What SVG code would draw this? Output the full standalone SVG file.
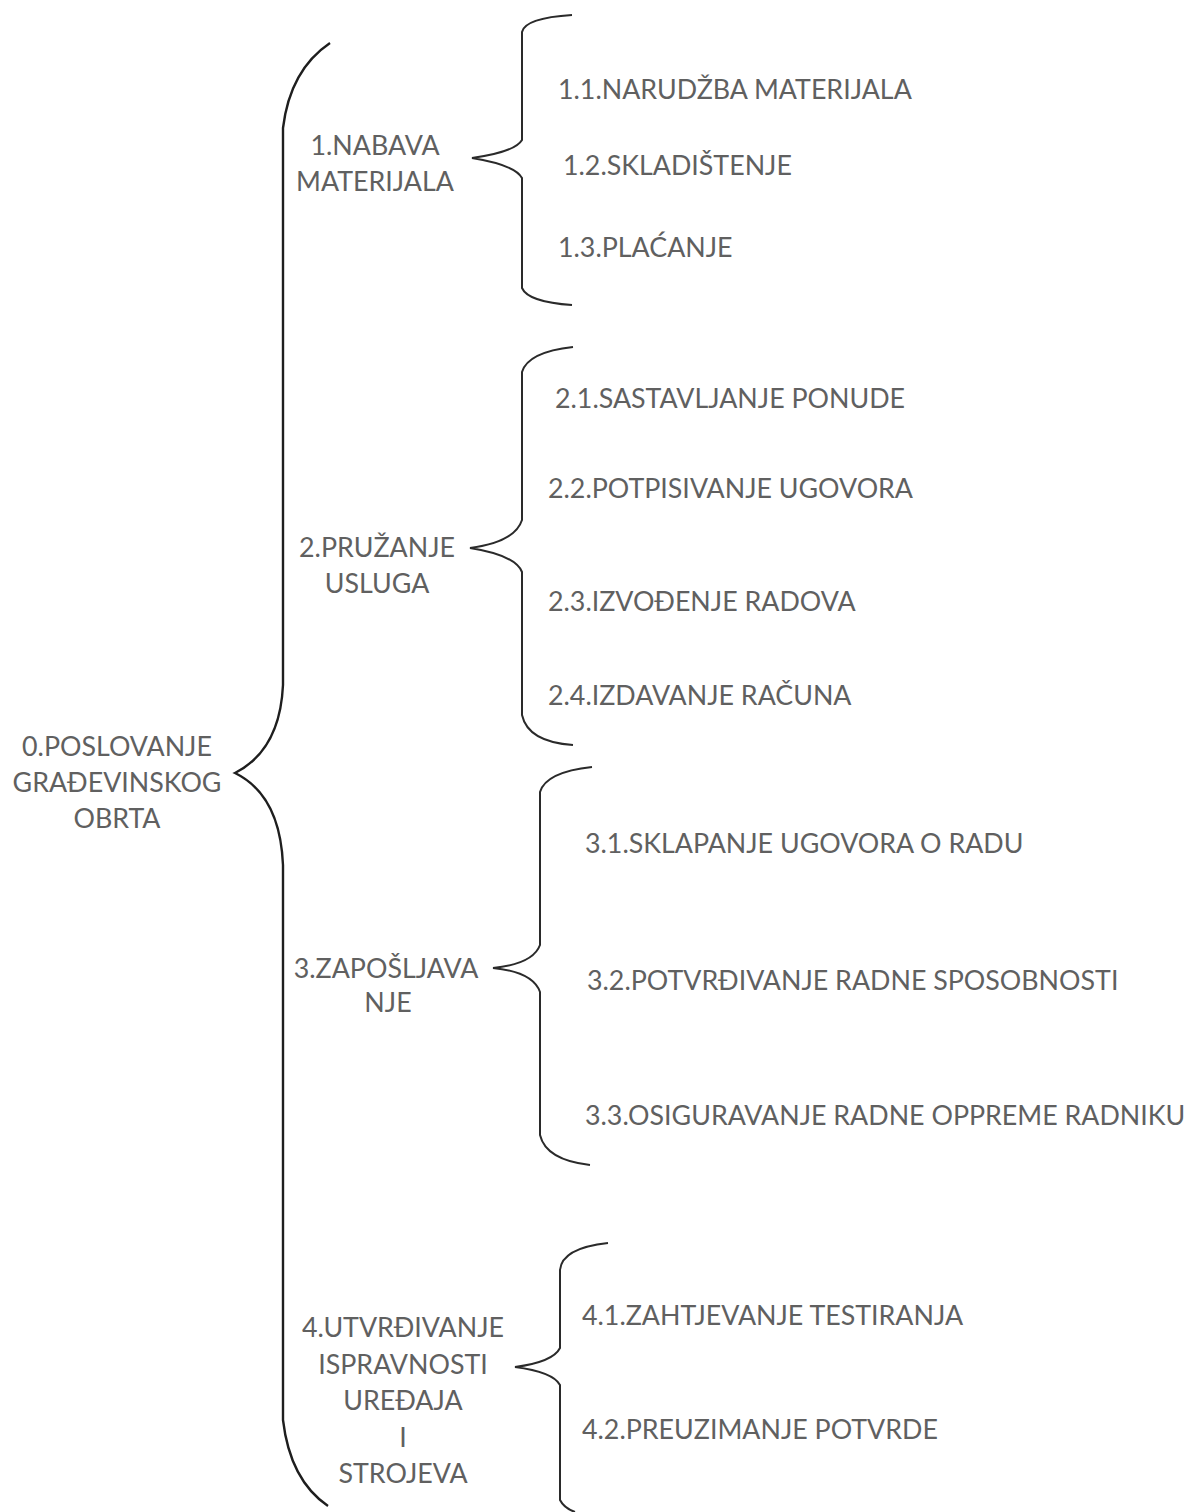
<svg xmlns="http://www.w3.org/2000/svg" width="1190" height="1512" viewBox="0 0 1190 1512">
<style>
text{font-family:Lato,"Liberation Sans",sans-serif;font-size:26.8px;fill:#606060}
.c{text-anchor:middle}
.br{fill:none;stroke:#2a2a2a;stroke-width:2}
.big{fill:none;stroke:#1e1e1e;stroke-width:2.4}
</style>
<rect width="1190" height="1512" fill="#fff"/>
<g id="connectors">
<path class="big" d="M330,43 Q290,70 283,128 L283,685 Q280,750 235,773 Q280,795 283,865 L283,1420 Q290,1480 328,1506"/>
<path class="br" d="M572,15 Q525,18 522,32 L522,140 Q515,152 472,158 Q515,165 522,178 L522,288 Q528,302 572,305"/>
<path class="br" d="M573,347 Q528,352 522,372 L522,520 Q515,542 470,548 Q515,555 522,572 L522,715 Q528,742 573,745"/>
<path class="br" d="M592,767 Q546,772 540,792 L540,945 Q533,964 493,968 Q533,972 540,992 L540,1135 Q546,1160 590,1165"/>
<path class="br" d="M608,1243 Q562,1248 560,1270 L560,1348 Q553,1362 515,1367 Q553,1372 560,1385 L560,1500 Q564,1508 575,1512"/>
</g>
<g id="n0"><text class="c" x="117" y="756">0.POSLOVANJE</text><text class="c" x="117" y="792">GRAĐEVINSKOG</text><text class="c" x="117" y="828">OBRTA</text></g>
<g id="n1"><text class="c" x="375" y="155">1.NABAVA</text><text class="c" x="375" y="191">MATERIJALA</text></g>
<g id="n11"><text x="558" y="99">1.1.NARUDŽBA MATERIJALA</text></g>
<g id="n12"><text x="563" y="175">1.2.SKLADIŠTENJE</text></g>
<g id="n13"><text x="558" y="257">1.3.PLAĆANJE</text></g>
<g id="n2"><text class="c" x="377" y="557">2.PRUŽANJE</text><text class="c" x="377" y="593">USLUGA</text></g>
<g id="n21"><text x="555" y="408">2.1.SASTAVLJANJE PONUDE</text></g>
<g id="n22"><text x="548" y="498">2.2.POTPISIVANJE UGOVORA</text></g>
<g id="n23"><text x="548" y="611">2.3.IZVOĐENJE RADOVA</text></g>
<g id="n24"><text x="548" y="705">2.4.IZDAVANJE RAČUNA</text></g>
<g id="n3"><text class="c" x="386" y="978">3.ZAPOŠLJAVA</text><text class="c" x="388" y="1012">NJE</text></g>
<g id="n31"><text x="585" y="853">3.1.SKLAPANJE UGOVORA O RADU</text></g>
<g id="n32"><text x="587" y="990">3.2.POTVRĐIVANJE RADNE SPOSOBNOSTI</text></g>
<g id="n33"><text x="585" y="1125">3.3.OSIGURAVANJE RADNE OPPREME RADNIKU</text></g>
<g id="n4"><text class="c" x="403" y="1337">4.UTVRĐIVANJE</text><text class="c" x="403" y="1374">ISPRAVNOSTI</text><text class="c" x="403" y="1410">UREĐAJA</text><text class="c" x="403" y="1447">I</text><text class="c" x="403" y="1483">STROJEVA</text></g>
<g id="n41"><text x="582" y="1325">4.1.ZAHTJEVANJE TESTIRANJA</text></g>
<g id="n42"><text x="582" y="1439">4.2.PREUZIMANJE POTVRDE</text></g>
</svg>
